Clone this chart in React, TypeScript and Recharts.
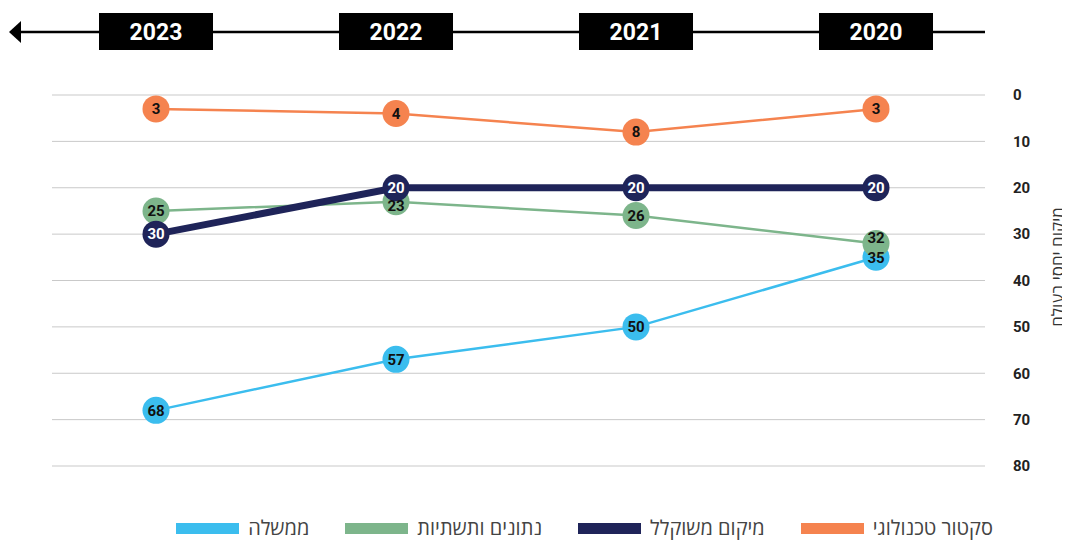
import React from 'react';
import { LineChart, Line, XAxis, YAxis, CartesianGrid, LabelList } from 'recharts';

const years = ['2020', '2021', '2022', '2023'];
const tech = [3, 8, 4, 3];
const weighted = [20, 20, 20, 30];
const infra = [32, 26, 23, 25];
const government = [35, 50, 57, 68];
const yTicks = [0, 10, 20, 30, 40, 50, 60, 70, 80];

const seriesNames = {
  tech: 'סקטור טכנולוגי',
  weighted: 'מיקום משוקלל',
  infra: 'נתונים ותשתיות',
  government: 'ממשלה',
};
const yLabel = 'מיקום יחסי בעולם';

const COLORS = {
  tech: '#f5834f',
  weighted: '#1f2459',
  infra: '#7db58b',
  government: '#3bbdee',
};

const data = years.map((year, i) => ({
  year,
  tech: tech[i],
  weighted: weighted[i],
  infra: infra[i],
  government: government[i],
}));

// legend reads right to left
const legendOrder: Array<keyof typeof seriesNames> = ['tech', 'weighted', 'infra', 'government'];

// small vertical nudges so the green labels don't collide with neighbours
const infraLabelNudge = [-5, 0, 4, 0];

const NUM_FONT = 'Roboto, "DejaVu Sans", sans-serif';
const HEB_FONT = '"Open Sans", "DejaVu Sans", sans-serif';

const YearTick = (props: any) => {
  const { x, payload } = props;
  return (
    <g>
      <rect x={x - 57} y={5} width={114} height={37} fill="#000" />
      <text
        x={x}
        y={24}
        textAnchor="middle"
        dominantBaseline="central"
        fill="#fff"
        fontFamily={NUM_FONT}
        fontWeight={700}
        fontSize={23}
      >
        {payload.value}
      </text>
    </g>
  );
};

const YLabel = (props: any) => {
  const { viewBox } = props;
  const x = viewBox.x + 72;
  const y = viewBox.y + 172;
  return (
    <text
      x={x}
      y={y}
      transform={`rotate(-90, ${x}, ${y})`}
      textAnchor="middle"
      dominantBaseline="central"
      fill="#333"
      fontFamily={HEB_FONT}
      fontSize={17}
    >
      {yLabel}
    </text>
  );
};

const lineProps = (key: keyof typeof COLORS, width: number) => ({
  type: 'linear' as const,
  dataKey: key,
  stroke: COLORS[key],
  strokeWidth: width,
  dot: { r: 13.5, fill: COLORS[key], stroke: COLORS[key], strokeWidth: 0 },
  activeDot: false as const,
  isAnimationActive: false,
});

const labelStyle = {
  fontFamily: NUM_FONT,
  fontWeight: 700,
  fontSize: 15,
};

const InfraLabel = (props: any) => {
  const { x, y, value, index } = props;
  return (
    <text
      x={x}
      y={y + (infraLabelNudge[index] || 0)}
      textAnchor="middle"
      dominantBaseline="central"
      fill="#111"
      style={labelStyle}
    >
      {value}
    </text>
  );
};

export default function App() {
  return (
    <div style={{ position: 'relative', width: 1062, height: 534 }}>
      <svg width={1062} height={60} style={{ position: 'absolute', left: 0, top: 0 }}>
        <line x1={6} y1={24} x2={977} y2={24} stroke="#000" strokeWidth={2.5} />
        <polygon points="1,24 13,13 13,35" fill="#000" />
      </svg>
      <LineChart
        width={1062}
        height={534}
        data={data}
        margin={{ top: 0, right: 0, bottom: 76, left: 44 }}
      >
        <CartesianGrid horizontal vertical={false} stroke="#c9c9c9" strokeWidth={1} />
        <XAxis
          dataKey="year"
          orientation="top"
          reversed
          height={87}
          padding={{ left: 104, right: 109 }}
          axisLine={false}
          tickLine={false}
          tick={<YearTick />}
          interval={0}
        />
        <YAxis
          orientation="right"
          reversed
          domain={[0, 80]}
          ticks={yTicks}
          width={85}
          axisLine={false}
          tickLine={false}
          tickMargin={22}
          tick={{ fill: '#222', fontFamily: NUM_FONT, fontWeight: 700, fontSize: 15, textAnchor: 'start' }}
          label={<YLabel />}
        />
        <Line {...lineProps('government', 2.5)}>
          <LabelList dataKey="government" position="center" fill="#111" style={labelStyle} />
        </Line>
        <Line {...lineProps('infra', 2.5)}>
          <LabelList dataKey="infra" content={<InfraLabel />} />
        </Line>
        <Line {...lineProps('weighted', 7)}>
          <LabelList dataKey="weighted" position="center" fill="#fff" style={labelStyle} />
        </Line>
        <Line {...lineProps('tech', 2.5)}>
          <LabelList dataKey="tech" position="center" fill="#111" style={labelStyle} />
        </Line>
      </LineChart>
      <div
        style={{
          position: 'absolute',
          top: 508,
          right: 1070 - 993,
          direction: 'rtl',
          display: 'flex',
          alignItems: 'center',
          gap: 36,
          fontFamily: HEB_FONT,
          fontSize: 20,
          lineHeight: '24px',
          color: '#444',
        }}
      >
        {legendOrder.map((key) => (
          <div key={key} style={{ display: 'flex', alignItems: 'center', gap: 9 }}>
            <span>{seriesNames[key]}</span>
            <span style={{ display: 'inline-block', width: 63, height: 11, background: COLORS[key] }} />
          </div>
        ))}
      </div>
    </div>
  );
}
